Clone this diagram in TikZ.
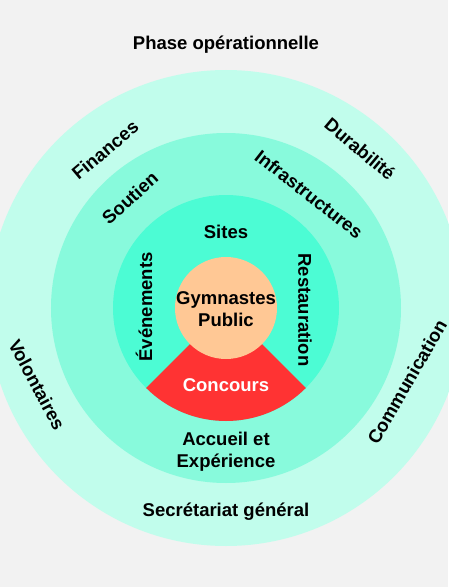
\documentclass[tikz,border=0pt]{standalone}
\usepackage{fontspec}
\setmainfont{Liberation Sans}
\usetikzlibrary{calc}

\definecolor{bgcol}{HTML}{F2F2F2}
\definecolor{ringouter}{HTML}{C1FDEC}
\definecolor{ringmid}{HTML}{88FADC}
\definecolor{ringinner}{HTML}{4CFCD4}
\definecolor{coresector}{HTML}{FF3333}
\definecolor{corecircle}{HTML}{FFC895}

\begin{document}
\begin{tikzpicture}[x=1pt, y=1pt,
	lbl/.style={font=\bfseries\fontsize{18.5}{22}\selectfont, align=center, inner sep=0pt}]
	\fill[bgcol] (-226,-279) rectangle (222,308);
	\useasboundingbox (-226,-279) rectangle (222,308);
	% rings
	\fill[ringouter] (0,0) circle (238);
	\fill[ringmid] (0,0) circle (175);
	\fill[ringinner] (0,0) circle (113);
	\fill[coresector] (0,0) -- (-135:113) arc[start angle=-135, end angle=-45, radius=113] -- cycle;
	\fill[corecircle] (0,0) circle (51);

	\node[lbl] (phase) at (0,263) {Phase opérationnelle};
	\node[lbl, rotate=40] (finances) at (-121,158) {Finances};
	\node[lbl, rotate=-40] (durab) at (134,159) {Durabilité};
	\node[lbl, rotate=-62] (volont) at (-189,-77) {Volontaires};
	\node[lbl, rotate=60] (comm) at (181,-74) {Communication};
	\node[lbl] (secret) at (0,-204) {Secrétariat général};

	\node[lbl, rotate=42] (soutien) at (-96,110) {Soutien};
	\node[lbl, rotate=-38] (infra) at (83,114) {Infrastructures};
	\node[lbl] (accueil) at (0,-144) {Accueil et\\Expérience};

	\node[lbl] (sites) at (0,76) {Sites};
	\node[lbl, rotate=90] (evts) at (-82,1) {Événements};
	\node[lbl, rotate=-90] (resto) at (79,-2) {Restauration};

	\node[lbl] (gym) at (0,-1) {Gymnastes\\Public};
	\node[lbl, text=white] (concours) at (0,-77) {Concours};
\end{tikzpicture}
\end{document}
